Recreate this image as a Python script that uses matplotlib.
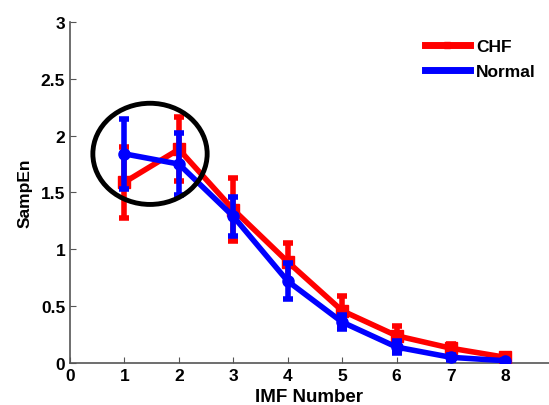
import matplotlib
matplotlib.use("Agg")
import matplotlib.pyplot as plt
from matplotlib.patches import Ellipse
from matplotlib.lines import Line2D

imf = [1, 2, 3, 4, 5, 6, 7, 8]
chf_mean = [1.59, 1.88, 1.35, 0.89, 0.46, 0.24, 0.13, 0.05]
chf_err = [0.31, 0.28, 0.28, 0.17, 0.13, 0.09, 0.04, 0.02]
normal_mean = [1.84, 1.75, 1.29, 0.72, 0.36, 0.14, 0.05, 0.02]
normal_err = [0.31, 0.27, 0.17, 0.16, 0.06, 0.05, 0.02, 0.01]

plt.rcParams['font.family'] = ['Liberation Sans', 'DejaVu Sans']
fig = plt.figure(figsize=(5.49, 4.06), dpi=100)
ax = fig.add_axes([0.1275, 0.1034, 0.8725, 0.84])

ax.errorbar(imf, chf_mean, yerr=chf_err, color='#ff0000', lw=4, marker='s', ms=8,
            elinewidth=4, capsize=3.5, capthick=4, zorder=3)
ax.errorbar(imf, normal_mean, yerr=normal_err, color='#0000ff', lw=4, marker='o', ms=8,
            elinewidth=4, capsize=3.5, capthick=4, zorder=4)

ax.add_patch(Ellipse((1.47, 1.84), 2.1, 0.89, fill=False, ec='black', lw=3.5, zorder=5))

ax.set_xlim(0, 8.8)
ax.set_ylim(0, 3)
ax.set_xticks(range(0, 9))
ax.set_yticks([0, 0.5, 1, 1.5, 2, 2.5, 3])
ax.set_yticklabels(['0', '0.5', '1', '1.5', '2', '2.5', '3'])
for lab in ax.get_xticklabels() + ax.get_yticklabels():
    lab.set_fontweight('bold')
ax.tick_params(direction='in', labelsize=12.5, length=4, color='#555555')
ax.spines['top'].set_visible(False)
ax.spines['right'].set_visible(False)
ax.spines['left'].set_color('#555555')
ax.spines['bottom'].set_color('#555555')
ax.spines['left'].set_linewidth(1.2)
ax.spines['bottom'].set_linewidth(1.2)
ax.set_xlabel('IMF Number', fontsize=13.5, fontweight='bold', labelpad=4)
ax.set_ylabel('SampEn', fontsize=12.5, fontweight='bold', labelpad=6)

handles = [Line2D([], [], color='#ff0000', lw=5, marker='s', ms=5),
           Line2D([], [], color='#0000ff', lw=5, marker='.', ms=3)]
ax.legend(handles, ['CHF', 'Normal'], loc='upper right', bbox_to_anchor=(1.005, 0.995),
          frameon=False, handlelength=2.6, handletextpad=0.35, labelspacing=0.55,
          prop={'weight': 'bold', 'size': 12.5})

fig.savefig('out.png', dpi=100)
